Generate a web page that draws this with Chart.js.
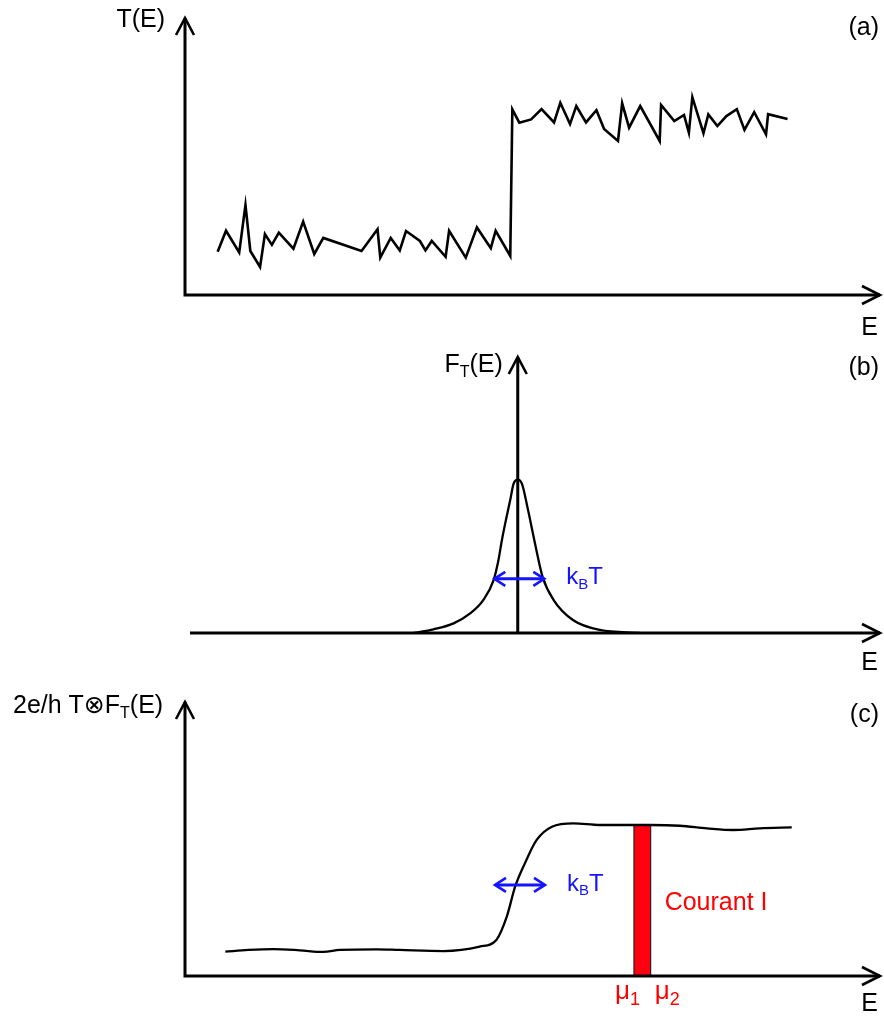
<!DOCTYPE html>
<html>
<head>
<meta charset="utf-8">
<script src="https://cdn.jsdelivr.net/npm/chart.js@4.4.1/dist/chart.umd.min.js"></script>
<style>
  html, body { margin: 0; padding: 0; background: #fff; }
  #wrap { position: relative; width: 884px; height: 1023px; }
  #wrap canvas { position: absolute; left: 0; }
</style>
</head>
<body>
<div id="wrap">
  <canvas id="chartA" width="884" height="345" style="top:0px"></canvas>
  <canvas id="chartB" width="884" height="340" style="top:345px"></canvas>
  <canvas id="chartC" width="884" height="338" style="top:685px"></canvas>
</div>
<script>
// (a) transmission T(E), noisy step
const transE = [0.47, 0.59, 0.78, 0.87, 0.94, 1.08, 1.15, 1.25, 1.35, 1.56, 1.70, 1.86, 1.99, 2.54, 2.77,
    2.81, 2.96, 3.09, 3.18, 3.38, 3.46, 3.55, 3.75, 3.80, 4.04, 4.20, 4.40, 4.47, 4.68,
    4.71, 4.81, 4.98, 5.13, 5.31, 5.40, 5.54, 5.63, 5.77, 5.92, 6.03, 6.23, 6.29, 6.39, 6.55,
    6.83, 6.85, 7.04, 7.18, 7.25, 7.30, 7.46, 7.53, 7.66, 7.79, 7.94, 8.05, 8.19, 8.36, 8.39, 8.67];
const transT = [0.156, 0.232, 0.154, 0.325, 0.159, 0.101, 0.220, 0.181, 0.225, 0.167, 0.265, 0.148, 0.206, 0.159, 0.237,
    0.135, 0.206, 0.161, 0.231, 0.195, 0.161, 0.195, 0.138, 0.232, 0.135, 0.244, 0.169, 0.232, 0.141,
    0.670, 0.622, 0.634, 0.671, 0.623, 0.694, 0.617, 0.682, 0.623, 0.667, 0.599, 0.556, 0.692, 0.604, 0.682,
    0.556, 0.686, 0.628, 0.650, 0.586, 0.714, 0.584, 0.652, 0.610, 0.646, 0.671, 0.596, 0.660, 0.580, 0.653, 0.635];

// (b) thermal window F_T(E), centred on E = 0
const windowE = [-1.51, -1.22, -0.93, -0.69, -0.50, -0.35, -0.28, -0.23, -0.17, -0.11, -0.06, 0,
    0.06, 0.15, 0.25, 0.36, 0.52, 0.80, 1.19, 1.77];
const windowF = [0, 0.024, 0.063, 0.128, 0.215, 0.345, 0.475, 0.605, 0.74, 0.865, 0.974, 1.0,
    0.974, 0.80, 0.584, 0.366, 0.215, 0.085, 0.020, 0];

// (c) 2e/h T (x) F_T(E)
const convE = [0.58, 0.91, 1.27, 1.65, 1.99, 2.23, 2.76, 3.09, 3.72, 4.24, 4.48, 4.63, 4.75, 4.89, 5.06, 5.28,
    5.59, 5.97, 6.69, 7.12, 7.51, 7.89, 8.27, 8.73];
const convI = [0.160, 0.171, 0.177, 0.169, 0.158, 0.171, 0.175, 0.171, 0.164, 0.193, 0.237, 0.390, 0.587, 0.740, 0.894, 0.981,
    1.003, 0.992, 0.992, 0.987, 0.970, 0.959, 0.970, 0.976];

// bias window mu1..mu2 and the current it carries
const mu = [6.46, 6.70];
const muTop = 0.992;

// k_B T width markers: [E start, E end, level]
const kTB = [-0.34, 0.385, 0.353];
const kTC = [4.46, 5.18, 0.598];

const FONT = '"Liberation Sans", Arial, "DejaVu Sans", sans-serif';
const BLUE = '#1414ff';
const RED = '#ff0000';

const pts = (xs, ys) => xs.map((x, i) => ({ x: x, y: ys[i] }));

function arrowHead(ctx, x, y, ang, len, half) {
    const c = Math.cos(ang), s = Math.sin(ang);
    ctx.beginPath();
    ctx.moveTo(x - len * c + half * s, y - len * s - half * c);
    ctx.lineTo(x, y);
    ctx.lineTo(x - len * c - half * s, y - len * s + half * c);
    ctx.stroke();
}

// x axis along y = 0 and a vertical axis at E = yAxisAt, both with open arrows
function drawAxes(chart, yAxisAt) {
    const { ctx, chartArea: a, scales: { x, y } } = chart;
    const y0 = y.getPixelForValue(0);
    const xa = x.getPixelForValue(yAxisAt);
    ctx.save();
    ctx.strokeStyle = '#000';
    ctx.lineWidth = 3;
    ctx.lineJoin = 'miter';
    ctx.beginPath();
    ctx.moveTo(a.left, y0);
    ctx.lineTo(a.right, y0);
    ctx.moveTo(xa, y0 + 1.5);
    ctx.lineTo(xa, a.top);
    ctx.stroke();
    ctx.lineWidth = 2.6;
    arrowHead(ctx, a.right, y0, 0, 18, 9);
    arrowHead(ctx, xa, a.top, -Math.PI / 2, 17, 9);
    ctx.restore();
}

function doubleArrow(chart, m) {
    const { ctx, scales: { x, y } } = chart;
    const x1 = x.getPixelForValue(m[0]), x2 = x.getPixelForValue(m[1]);
    const yy = y.getPixelForValue(m[2]);
    ctx.save();
    ctx.strokeStyle = BLUE;
    ctx.lineWidth = 3;
    ctx.beginPath();
    ctx.moveTo(x1 + 1, yy);
    ctx.lineTo(x2 - 1, yy);
    ctx.stroke();
    ctx.lineWidth = 2.6;
    arrowHead(ctx, x2, yy, 0, 11, 7);
    arrowHead(ctx, x1, yy, Math.PI, 11, 7);
    ctx.restore();
}

// parts: plain strings, or [string] for a subscript
function richText(ctx, parts, x, y, align, size, color, subRatio) {
    const sub = Math.round(size * (subRatio || 0.62));
    ctx.save();
    ctx.fillStyle = color || '#000';
    ctx.textBaseline = 'middle';
    ctx.textAlign = 'left';
    let w = 0;
    parts.forEach(p => {
        ctx.font = (Array.isArray(p) ? sub : size) + 'px ' + FONT;
        w += ctx.measureText(Array.isArray(p) ? p[0] : p).width;
    });
    let cx = align === 'right' ? x - w : align === 'center' ? x - w / 2 : x;
    parts.forEach(p => {
        const isSub = Array.isArray(p);
        const t = isSub ? p[0] : p;
        ctx.font = (isSub ? sub : size) + 'px ' + FONT;
        ctx.fillText(t, cx, isSub ? y + size * 0.3 : y);
        cx += ctx.measureText(t).width;
    });
    ctx.restore();
}

function baseOptions(pad, xMin, xMax, yMax) {
    return {
        responsive: false,
        devicePixelRatio: 1,
        animation: false,
        layout: { padding: pad },
        plugins: { legend: { display: false }, tooltip: { enabled: false } },
        scales: {
            x: { type: 'linear', min: xMin, max: xMax, display: false },
            y: { type: 'linear', min: 0, max: yMax, display: false }
        }
    };
}

new Chart(document.getElementById('chartA'), {
    type: 'scatter',
    data: {
        datasets: [{
            data: pts(transE, transT),
            showLine: true,
            borderColor: '#000',
            borderWidth: 2.6,
            pointRadius: 0,
            tension: 0
        }]
    },
    options: baseOptions({ left: 185, right: 4, top: 18, bottom: 50 }, 0, 10, 1),
    plugins: [{
        id: 'panelA',
        afterDatasetsDraw(chart) {
            const { ctx, chartArea: a } = chart;
            drawAxes(chart, 0);
            richText(ctx, ['T(E)'], a.left - 20, a.top + 2, 'right', 25);
            richText(ctx, ['E'], 878, a.bottom + 33, 'right', 25);
            richText(ctx, ['(a)'], 879, 28, 'right', 25);
        }
    }]
});

new Chart(document.getElementById('chartB'), {
    type: 'scatter',
    data: {
        datasets: [{
            data: pts(windowE, windowF),
            showLine: true,
            borderColor: '#000',
            borderWidth: 2.3,
            pointRadius: 0,
            cubicInterpolationMode: 'monotone'
        }]
    },
    options: baseOptions({ left: 190, right: 4, top: 12, bottom: 52 }, -4.75, 5.25, 1.8),
    plugins: [{
        id: 'panelB',
        afterDatasetsDraw(chart) {
            const { ctx, chartArea: a, scales: { x, y } } = chart;
            drawAxes(chart, 0);
            doubleArrow(chart, kTB);
            richText(ctx, ['F', ['T'], '(E)'], x.getPixelForValue(0) - 15, a.top + 8, 'right', 25);
            richText(ctx, ['k', ['B'], 'T'], x.getPixelForValue(kTB[1]) + 22, y.getPixelForValue(kTB[2]) - 1, 'left', 24, BLUE);
            richText(ctx, ['E'], 878, a.bottom + 30, 'right', 25);
            richText(ctx, ['(b)'], 879, 23, 'right', 25);
        }
    }]
});

new Chart(document.getElementById('chartC'), {
    type: 'scatter',
    data: {
        datasets: [{
            data: pts(convE, convI),
            showLine: true,
            borderColor: '#000',
            borderWidth: 2.3,
            pointRadius: 0,
            cubicInterpolationMode: 'monotone'
        }, {
            // current between mu1 and mu2
            data: pts([mu[0], mu[0], mu[1], mu[1]], [0, muTop, muTop, 0]),
            showLine: true,
            fill: 'origin',
            backgroundColor: '#ff0010',
            borderColor: '#222',
            borderWidth: 1.2,
            pointRadius: 0,
            tension: 0
        }]
    },
    options: baseOptions({ left: 185, right: 4, top: 17, bottom: 47 }, 0, 10, 1.8),
    plugins: [{
        id: 'panelC',
        afterDatasetsDraw(chart) {
            const { ctx, chartArea: a, scales: { x, y } } = chart;
            drawAxes(chart, 0);
            doubleArrow(chart, kTC);
            richText(ctx, ['2e/h T\u2297F', ['T'], '(E)'], 13, 21, 'left', 25);
            richText(ctx, ['k', ['B'], 'T'], x.getPixelForValue(kTC[1]) + 22, y.getPixelForValue(kTC[2]) - 1, 'left', 24, BLUE);
            richText(ctx, ['Courant I'], x.getPixelForValue(mu[1]) + 14, y.getPixelForValue(0.48), 'left', 25, RED);
            richText(ctx, ['\u03bc', ['1']], x.getPixelForValue(mu[0]) + 6, a.bottom + 16, 'right', 26, RED, 0.7);
            richText(ctx, ['\u03bc', ['2']], x.getPixelForValue(mu[1]) + 4, a.bottom + 16, 'left', 26, RED, 0.7);
            richText(ctx, ['E'], 878, a.bottom + 28, 'right', 25);
            richText(ctx, ['(c)'], 879, 30, 'right', 25);
        }
    }]
});
</script>
</body>
</html>
